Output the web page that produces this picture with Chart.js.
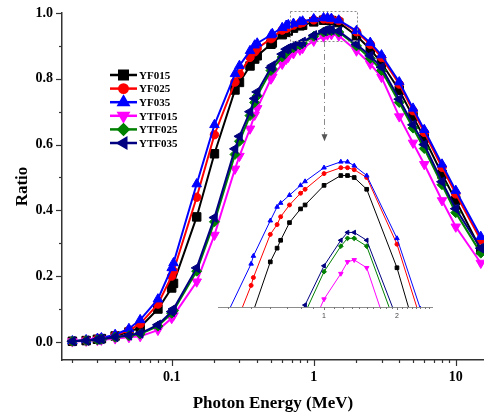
<!DOCTYPE html>
<html>
<head>
<meta charset="utf-8">
<script src="https://cdn.jsdelivr.net/npm/chart.js@4.4.0/dist/chart.umd.min.js"></script>
<style>
html, body { margin: 0; padding: 0; background: #fff; }
#wrap { position: relative; width: 484px; height: 414px; }
#main { position: absolute; left: 0; top: 0; }
#inset { position: absolute; left: 200px; top: 140px; }
</style>
</head>
<body>
<div id="wrap">
<canvas id="main" width="484" height="414"></canvas>
<canvas id="inset" width="250" height="190"></canvas>
</div>
<script>
// photon energies (MeV)
var energy = [0.02, 0.025, 0.03, 0.032, 0.04, 0.05, 0.06, 0.08, 0.1, 0.103, 0.15, 0.2, 0.279, 0.3, 0.356, 0.384, 0.4,
    0.5, 0.511, 0.6, 0.64, 0.662, 0.72, 0.8, 0.835, 1.0, 1.173, 1.25, 1.332, 1.5, 2.0, 2.5, 3, 4, 5, 6, 8, 10, 15];

var yf015 = [0.002, 0.004, 0.008, 0.010, 0.018, 0.030, 0.045, 0.100, 0.164, 0.178, 0.380, 0.572, 0.766, 0.789, 0.839, 0.860, 0.870,
    0.905, 0.909, 0.934, 0.941, 0.945, 0.954, 0.961, 0.963, 0.973, 0.978, 0.978, 0.977, 0.971, 0.931, 0.890, 0.848, 0.765, 0.685, 0.620, 0.510, 0.430, 0.280];
var yf025 = [0.002, 0.005, 0.009, 0.011, 0.020, 0.035, 0.055, 0.115, 0.200, 0.215, 0.440, 0.630, 0.790, 0.815, 0.865, 0.882, 0.892,
    0.922, 0.926, 0.948, 0.953, 0.957, 0.963, 0.969, 0.971, 0.979, 0.982, 0.982, 0.981, 0.977, 0.943, 0.905, 0.865, 0.784, 0.703, 0.637, 0.531, 0.450, 0.310];
var yf035 = [0.003, 0.006, 0.010, 0.012, 0.022, 0.040, 0.067, 0.130, 0.225, 0.240, 0.480, 0.660, 0.815, 0.840, 0.885, 0.902, 0.908,
    0.933, 0.937, 0.955, 0.962, 0.964, 0.968, 0.973, 0.975, 0.982, 0.985, 0.985, 0.983, 0.978, 0.946, 0.910, 0.872, 0.790, 0.710, 0.645, 0.540, 0.460, 0.320];
var ytf015 = [0.001, 0.003, 0.005, 0.006, 0.010, 0.014, 0.017, 0.036, 0.072, 0.080, 0.183, 0.325, 0.526, 0.565, 0.648, 0.690, 0.710,
    0.800, 0.806, 0.845, 0.860, 0.866, 0.877, 0.888, 0.893, 0.915, 0.928, 0.934, 0.935, 0.931, 0.885, 0.845, 0.805, 0.685, 0.605, 0.540, 0.430, 0.350, 0.240];
var ytf025 = [0.002, 0.004, 0.006, 0.008, 0.014, 0.019, 0.024, 0.048, 0.087, 0.095, 0.215, 0.365, 0.570, 0.610, 0.688, 0.728, 0.748,
    0.825, 0.830, 0.866, 0.880, 0.886, 0.894, 0.903, 0.908, 0.929, 0.942, 0.946, 0.946, 0.942, 0.900, 0.862, 0.825, 0.728, 0.650, 0.588, 0.478, 0.393, 0.270];
var ytf035 = [0.002, 0.004, 0.007, 0.009, 0.015, 0.020, 0.026, 0.052, 0.092, 0.100, 0.225, 0.378, 0.587, 0.625, 0.700, 0.740, 0.760,
    0.834, 0.840, 0.875, 0.890, 0.893, 0.900, 0.907, 0.912, 0.932, 0.945, 0.949, 0.949, 0.945, 0.905, 0.870, 0.835, 0.738, 0.660, 0.600, 0.487, 0.405, 0.285];

var seriesNames = ['YF015', 'YF025', 'YF035', 'YTF015', 'YTF025', 'YTF035'];
var seriesValues = [yf015, yf025, yf035, ytf015, ytf025, ytf035];

var xTickLabels = [0.1, 1, 10];
var yTickLabels = [0.0, 0.2, 0.4, 0.6, 0.8, 1.0];
var insetTickLabels = [1, 2];

// zoom window shown by the inset: [xMin, xMax, yMin, yMax]
var zoomBox = [0.685, 2.03, 0.915, 1.006];

var colors = ['#000000', '#ff0000', '#0000ff', '#ff00ff', '#008000', '#000080'];
var shapes = ['rect', 'circle', 'triangle', 'triangle', 'rectRot', 'triangle'];
var rotations = [0, 0, 0, 180, 0, -90];
var mainRadius = [6, 4.2, 5.5, 5.5, 5, 5.5];
var insetRadius = [2.6, 2, 2.6, 2.6, 2.4, 2.6];

var serif = "'Liberation Serif', 'Times New Roman', serif";

Chart.defaults.font.family = serif;
Chart.defaults.color = '#000';

function near(list, v) {
    return list.some(function (t) { return Math.abs(t - v) < 1e-6 * Math.max(1, Math.abs(t)); });
}

function buildSets(radius, width) {
    return seriesNames.map(function (name, i) {
        return {
            label: name,
            data: energy.map(function (e, j) { return { x: e, y: seriesValues[i][j] }; }),
            borderColor: colors[i],
            backgroundColor: colors[i],
            pointBackgroundColor: colors[i],
            pointBorderColor: colors[i],
            pointStyle: shapes[i],
            rotation: rotations[i],
            pointRadius: radius[i],
            pointBorderWidth: 1,
            borderWidth: width,
            tension: 0,
            order: 5 - i
        };
    });
}

// draws outward tick marks, long for labelled ticks and short for the others
var tickMarks = {
    id: 'tickMarks',
    afterDraw: function (chart, args, opts) {
        var ctx = chart.ctx;
        ctx.save();
        ctx.strokeStyle = opts.color;
        ctx.lineWidth = opts.width;
        var xs = chart.scales.x;
        xs.ticks.forEach(function (t) {
            var px = Math.round(xs.getPixelForValue(t.value)) + 0.5;
            var len = near(opts.xMajor, t.value) ? opts.major : opts.minor;
            ctx.beginPath();
            ctx.moveTo(px, xs.top);
            ctx.lineTo(px, xs.top + len);
            ctx.stroke();
        });
        var ys = chart.scales.y;
        if (ys.options.display) {
            ys.ticks.forEach(function (t) {
                var py = Math.round(ys.getPixelForValue(t.value)) + 0.5;
                var len = near(opts.yMajor, t.value) ? opts.major : opts.minor;
                ctx.beginPath();
                ctx.moveTo(ys.right, py);
                ctx.lineTo(ys.right - len, py);
                ctx.stroke();
            });
        }
        ctx.restore();
    }
};

// legend drawn inside the plot area
var innerLegend = {
    id: 'innerLegend',
    afterDraw: function (chart, args, opts) {
        var ctx = chart.ctx;
        ctx.save();
        chart.data.datasets.forEach(function (ds, i) {
            var y = opts.top + i * opts.step;
            ctx.strokeStyle = ds.borderColor;
            ctx.lineWidth = 2.5;
            ctx.beginPath();
            ctx.moveTo(opts.left, y);
            ctx.lineTo(opts.left + opts.len, y);
            ctx.stroke();
            Chart.helpers.drawPoint(ctx, {
                pointStyle: ds.pointStyle,
                rotation: ds.rotation,
                radius: ds.pointRadius,
                borderWidth: 1
            }, opts.left + opts.len / 2, y);
            ctx.fillStyle = ds.borderColor;
            ctx.strokeStyle = ds.borderColor;
            ctx.fill();
            ctx.fillStyle = '#000';
            ctx.font = 'bold 11px ' + serif;
            ctx.textBaseline = 'middle';
            ctx.fillText(ds.label, opts.left + opts.len + 2, y + 1);
        });
        ctx.restore();
    }
};

// dashed zoom window and arrow down to the inset
var zoomMark = {
    id: 'zoomMark',
    afterDraw: function (chart, args, opts) {
        var ctx = chart.ctx;
        var xs = chart.scales.x, ys = chart.scales.y;
        var x0 = xs.getPixelForValue(zoomBox[0]), x1 = xs.getPixelForValue(zoomBox[1]);
        var y0 = ys.getPixelForValue(zoomBox[3]), y1 = ys.getPixelForValue(zoomBox[2]);
        ctx.save();
        ctx.strokeStyle = '#8a8a8a';
        ctx.lineWidth = 1;
        ctx.setLineDash([2, 2]);
        ctx.strokeRect(Math.round(x0) + 0.5, Math.round(y0) + 0.5, Math.round(x1 - x0), Math.round(y1 - y0));
        var cx = Math.round((x0 + x1) / 2) + 0.5;
        var tip = ys.getPixelForValue(opts.arrowTo);
        ctx.setLineDash([6, 3, 1, 3]);
        ctx.beginPath();
        ctx.moveTo(cx, y1);
        ctx.lineTo(cx, tip - 6);
        ctx.stroke();
        ctx.setLineDash([]);
        ctx.fillStyle = '#555';
        ctx.beginPath();
        ctx.moveTo(cx - 3, tip - 7);
        ctx.lineTo(cx + 3, tip - 7);
        ctx.lineTo(cx, tip);
        ctx.closePath();
        ctx.fill();
        ctx.restore();
    }
};

var mainMinor = [];
[0.01, 0.1, 1, 10].forEach(function (d) {
    for (var k = 1; k < 10; k++) { mainMinor.push(d * k); }
});

var mainChart = new Chart(document.getElementById('main'), {
    type: 'line',
    data: { datasets: buildSets(mainRadius, 2) },
    options: {
        responsive: false,
        devicePixelRatio: 1,
        animation: false,
        layout: { autoPadding: false, padding: { top: 13, right: 0, left: 0, bottom: 0 } },
        elements: { line: { fill: false } },
        datasets: { line: { clip: false } },
        scales: {
            x: {
                type: 'logarithmic',
                min: 0.0169,
                max: 15.8,
                grid: { display: true, drawOnChartArea: false, drawTicks: false },
                border: { display: true, color: '#333', width: 1.5 },
                afterBuildTicks: function (scale) {
                    scale.ticks = mainMinor.filter(function (v) { return v >= 0.0169 && v <= 15.8; })
                        .map(function (v) { return { value: v }; });
                },
                afterFit: function (scale) {
                    scale.height = 54;
                    scale.paddingLeft = 0;
                    scale.paddingRight = 0;
                },
                ticks: {
                    autoSkip: false,
                    maxRotation: 0,
                    padding: 9,
                    font: { size: 14, weight: 'bold' },
                    callback: function (v) { return near(xTickLabels, v) ? String(+v.toFixed(2)) : ''; }
                },
                title: {
                    display: true,
                    text: 'Photon Energy (MeV)',
                    font: { size: 17, weight: 'bold' },
                    padding: { top: 1, bottom: 0 }
                }
            },
            y: {
                type: 'linear',
                min: -0.055,
                max: 1.0,
                grid: { display: true, drawOnChartArea: false, drawTicks: false },
                border: { display: true, color: '#333', width: 1.5 },
                afterBuildTicks: function (scale) {
                    var t = [];
                    for (var k = 0; k <= 10; k++) { t.push({ value: k / 10 }); }
                    scale.ticks = t;
                },
                afterFit: function (scale) {
                    scale.width = 62;
                    scale.paddingTop = 0;
                    scale.paddingBottom = 0;
                },
                ticks: {
                    padding: 9,
                    font: { size: 14, weight: 'bold' },
                    callback: function (v) { return near(yTickLabels, v) ? v.toFixed(1) : ''; }
                },
                title: {
                    display: true,
                    text: 'Ratio',
                    font: { size: 17, weight: 'bold' },
                    padding: { top: 12, bottom: 0 }
                }
            }
        },
        plugins: {
            legend: { display: false },
            tooltip: { enabled: false },
            tickMarks: { color: '#333', width: 1.2, major: 6, minor: 3, xMajor: xTickLabels, yMajor: yTickLabels },
            innerLegend: { left: 110, top: 75, step: 13.6, len: 27 },
            zoomMark: { arrowTo: 0.61 }
        }
    },
    plugins: [tickMarks, innerLegend, zoomMark]
});

var insetMinor = [];
for (var k = 4; k <= 27; k++) { insetMinor.push(k / 10); }

var insetChart = new Chart(document.getElementById('inset'), {
    type: 'line',
    data: { datasets: buildSets(insetRadius, 1) },
    options: {
        responsive: false,
        devicePixelRatio: 1,
        animation: false,
        layout: { autoPadding: false, padding: { top: 12, right: 18, left: 18, bottom: 0 } },
        scales: {
            x: {
                type: 'logarithmic',
                min: 0.365,
                max: 2.79,
                grid: { display: true, drawOnChartArea: false, drawTicks: false },
                border: { display: true, color: '#8c8c8c', width: 1 },
                afterBuildTicks: function (scale) {
                    scale.ticks = insetMinor.map(function (v) { return { value: v }; });
                },
                afterFit: function (scale) {
                    scale.height = 23;
                    scale.paddingLeft = 0;
                    scale.paddingRight = 0;
                },
                ticks: {
                    autoSkip: false,
                    maxRotation: 0,
                    padding: 5,
                    color: '#444',
                    font: { family: "'Liberation Sans', Arial, sans-serif", size: 7 },
                    callback: function (v) { return near(insetTickLabels, v) ? String(v) : ''; }
                }
            },
            y: { type: 'linear', min: 0.911, max: 0.99, display: false }
        },
        plugins: {
            legend: { display: false },
            tooltip: { enabled: false },
            tickMarks: { color: '#777', width: 1, major: 3, minor: 2, xMajor: insetTickLabels, yMajor: [] }
        }
    },
    plugins: [tickMarks]
});
</script>
</body>
</html>
